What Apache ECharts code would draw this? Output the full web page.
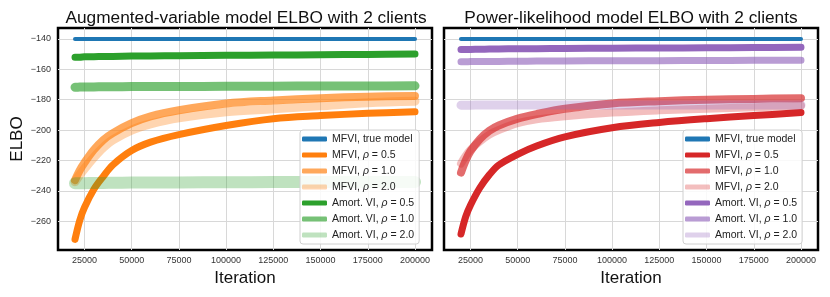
<!DOCTYPE html>
<html><head><meta charset="utf-8">
<script src="https://cdn.jsdelivr.net/npm/echarts@6/dist/echarts.min.js"></script>
<style>html,body{margin:0;padding:0;background:#fff}#c{width:830px;height:297px}</style>
</head><body><div id="c"></div>
<script>
const iters = [20000, 22500, 25000, 30000, 35000, 40000, 50000, 60000, 75000, 100000, 125000, 150000, 175000, 200000];
const xTicks = [25000, 50000, 75000, 100000, 125000, 150000, 175000, 200000];
const yTicks = [-260, -240, -220, -200, -180, -160, -140];

const leftTitle = 'Augmented-variable model ELBO with 2 clients';
const rightTitle = 'Power-likelihood model ELBO with 2 clients';
const seriesNames = ['MFVI, true model', 'MFVI, ρ = 0.5', 'MFVI, ρ = 1.0', 'MFVI, ρ = 2.0',
  'Amort. VI, ρ = 0.5', 'Amort. VI, ρ = 1.0', 'Amort. VI, ρ = 2.0'];

// Left panel (augmented-variable model)
const trueModelA = [-140,-140,-140,-140,-140,-140,-140,-140,-140,-140,-140,-140,-140,-140];
const mfvi05A = [-272,-259.5,-251,-239,-230.5,-223,-213.5,-208,-203,-197,-192.5,-190.5,-189,-188];
const mfvi10A = [-233,-226.5,-221.5,-213,-206.5,-202,-195.5,-191,-187,-182.5,-180.5,-179,-178,-177.5];
const mfvi20A = [-234,-229.5,-225.5,-218,-211.5,-206.5,-200,-196,-192,-188,-186,-184,-182,-181];
const amort05A = [-152,-152,-151.8,-151.7,-151.6,-151.5,-151.3,-151.2,-151,-150.8,-150.6,-150.4,-150.2,-150];
const amort10A = [-171.8,-171.7,-171.6,-171.6,-171.5,-171.5,-171.4,-171.3,-171.3,-171.2,-171.1,-171,-171,-170.9];
const amort20A = [-235,-235,-235,-234.8,-234.8,-234.7,-234.6,-234.5,-234.5,-234.4,-234.3,-234.3,-234.2,-234.2];

// Right panel (power-likelihood model)
const trueModelB = [-140,-140,-140,-140,-140,-140,-140,-140,-140,-140,-140,-140,-140,-140];
const mfvi05B = [-268.5,-257,-249.5,-238,-229.5,-223,-216,-210.5,-204.5,-198.5,-195,-192.5,-190.5,-188.5];
const mfvi10B = [-228,-220,-214,-206,-200.5,-197,-192.5,-189.5,-186,-182.5,-181,-180,-179.5,-179];
const mfvi20B = [-222,-217,-213,-207.5,-203,-200,-195.5,-193,-191,-188.5,-187,-186,-185,-184];
const amort05B = [-147,-147,-146.9,-146.8,-146.7,-146.6,-146.5,-146.4,-146.3,-146.1,-146,-145.8,-145.7,-145.5];
const amort10B = [-155,-155,-154.9,-154.9,-154.8,-154.8,-154.7,-154.6,-154.5,-154.4,-154.3,-154.2,-154.1,-154];
const amort20B = [-183.6,-183.6,-183.6,-183.5,-183.5,-183.5,-183.5,-183.5,-183.5,-183.5,-183.5,-183.5,-183.5,-183.5];

const FONT = 'Liberation Sans, Arial, Helvetica, sans-serif';
const chart = echarts.init(document.getElementById('c'), null, {renderer: 'canvas'});

function pts(ys) { return iters.map((x, i) => [x, ys[i]]); }

const leftColors = ['#1f77b4', '#ff7f0e', 'rgba(255,127,14,0.68)', 'rgba(255,127,14,0.33)',
  '#2ca02c', 'rgba(44,160,44,0.65)', 'rgba(44,160,44,0.3)'];
const rightColors = ['#1f77b4', '#d62728', 'rgba(214,39,40,0.68)', 'rgba(214,39,40,0.3)',
  '#9467bd', 'rgba(148,103,189,0.65)', 'rgba(148,103,189,0.3)'];
const widthsA = [4, 7, 8, 9, 7, 9, 12];
const widthsB = [4, 7, 8, 8, 7, 7, 9];
const dataA = [trueModelA, mfvi05A, mfvi10A, mfvi20A, amort05A, amort10A, amort20A];
const dataB = [trueModelB, mfvi05B, mfvi10B, mfvi20B, amort05B, amort10B, amort20B];
const namesA = seriesNames.slice();
const namesB = seriesNames.map(n => n + '\u200b');

const series = [];
dataA.forEach((d, i) => series.push({
  name: namesA[i], type: 'line', xAxisIndex: 0, yAxisIndex: 0, data: pts(d),
  showSymbol: false, symbol: 'none', smooth: 0.35,
  lineStyle: {color: leftColors[i], width: widthsA[i], cap: 'round', join: 'round'},
  itemStyle: {color: leftColors[i]}
}));
dataB.forEach((d, i) => series.push({
  name: namesB[i], type: 'line', xAxisIndex: 1, yAxisIndex: 1, data: pts(d),
  showSymbol: false, symbol: 'none', smooth: 0.35,
  lineStyle: {color: rightColors[i], width: widthsB[i], cap: 'round', join: 'round'},
  itemStyle: {color: rightColors[i]}
}));

function xAxis(idx) {
  return {
    type: 'value', gridIndex: idx, min: 11000, max: 209000,
    axisLine: {show: false}, axisTick: {show: false, customValues: xTicks},
    axisLabel: {customValues: xTicks, color: '#333', fontFamily: FONT, fontSize: 9, margin: 6,
      formatter: v => String(v)},
    splitLine: {show: true, lineStyle: {color: '#d8d8d8', width: 1}},
    name: 'Iteration', nameLocation: 'middle', nameGap: 16,
    nameTextStyle: {fontFamily: FONT, fontSize: 17, color: '#111'}
  };
}
function yAxis(idx, withLabels) {
  return {
    type: 'value', gridIndex: idx, min: -279, max: -132.8,
    axisLine: {show: false}, axisTick: {show: false, customValues: yTicks},
    axisLabel: {show: withLabels, customValues: yTicks, color: '#333', fontFamily: FONT, fontSize: 9, margin: 7,
      formatter: v => String(v).replace('-', '\u2212')},
    splitLine: {show: true, lineStyle: {color: '#d8d8d8', width: 1}},
    name: withLabels ? 'ELBO' : '', nameLocation: 'middle', nameGap: 32,
    nameTextStyle: {fontFamily: FONT, fontSize: 17, color: '#111'}
  };
}
function legend(left, names) {
  return {
    data: names, orient: 'vertical', left: left, top: 130,
    icon: 'roundRect', itemWidth: 25, itemHeight: 5, itemGap: 4,
    padding: [3, 5, 3, 2],
    backgroundColor: 'rgba(255,255,255,0.85)', borderColor: '#d0d0d0', borderWidth: 1, borderRadius: 3,
    selectedMode: false,
    formatter: n => n.replace('\u200b', '').replace('ρ', '{i|ρ}'),
    textStyle: {fontFamily: FONT, fontSize: 10.5, color: '#222', lineHeight: 12,
      rich: {i: {fontFamily: FONT, fontSize: 10.5, fontStyle: 'italic', color: '#222', lineHeight: 12}}}
  };
}

chart.setOption({
  animation: false,
  backgroundColor: '#fff',
  grid: [
    {left: 58, top: 28, width: 374, height: 222, show: true, borderColor: '#000', borderWidth: 2.5, backgroundColor: '#fff', containLabel: false},
    {left: 444, top: 28, width: 374, height: 222, show: true, borderColor: '#000', borderWidth: 2.5, backgroundColor: '#fff', containLabel: false}
  ],
  xAxis: [xAxis(0), xAxis(1)],
  yAxis: [yAxis(0, true), yAxis(1, false)],
  legend: [legend(300, namesA), legend(683, namesB)],
  graphic: [
    {type: 'text', x: 246, y: 18, style: {text: leftTitle, font: '17.3px ' + FONT, fill: '#111', align: 'center', verticalAlign: 'middle'}},
    {type: 'text', x: 631, y: 18, style: {text: rightTitle, font: '17.3px ' + FONT, fill: '#111', align: 'center', verticalAlign: 'middle'}}
  ],
  series: series
});
</script></body></html>
